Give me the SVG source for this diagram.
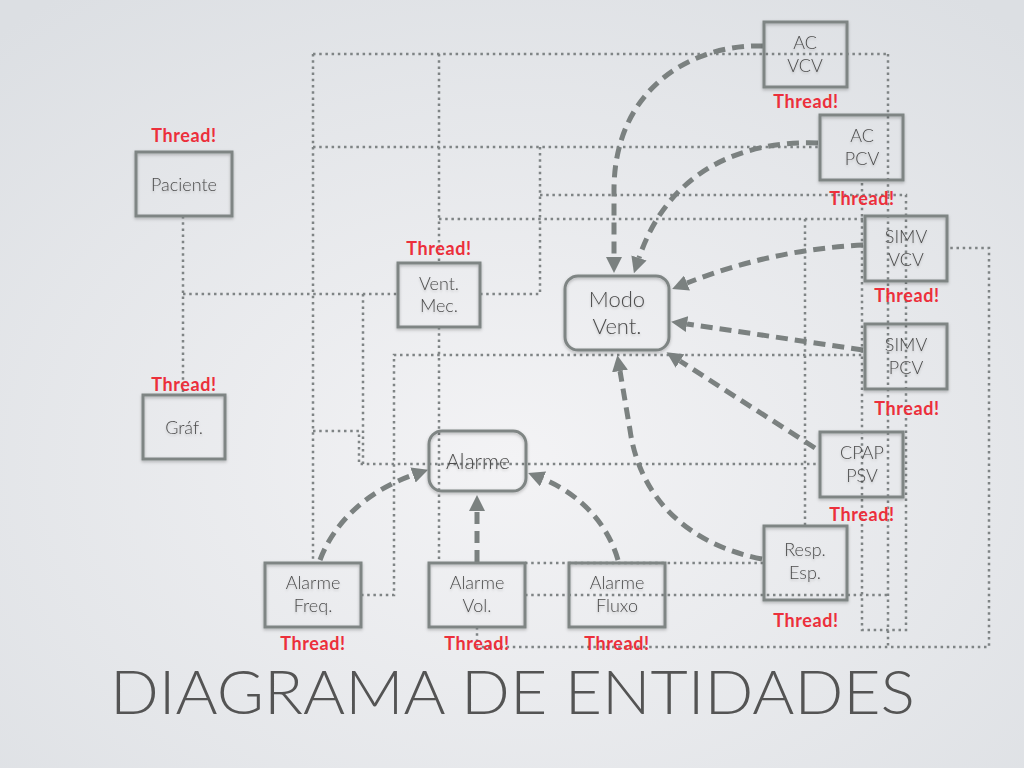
<svg xmlns="http://www.w3.org/2000/svg" width="1024" height="768" viewBox="0 0 1024 768">
<defs>
<radialGradient id="bg" cx="0.5" cy="0.6" r="0.75">
<stop offset="0" stop-color="#f3f3f5"/>
<stop offset="1" stop-color="#dcdfe3"/>
</radialGradient>
<filter id="sh" x="-10%" y="-10%" width="120%" height="130%">
<feDropShadow dx="0" dy="1.5" stdDeviation="1.5" flood-color="#000" flood-opacity="0.25"/>
</filter>
<filter id="tsh" x="-10%" y="-10%" width="120%" height="140%">
<feDropShadow dx="0" dy="1.5" stdDeviation="1" flood-color="#000" flood-opacity="0.18"/>
</filter>
<marker id="ah" viewBox="0 0 10 10" refX="0" refY="5" markerWidth="16" markerHeight="16" markerUnits="userSpaceOnUse" orient="auto">
<path d="M0,0 L10,5 L0,10 z" fill="#7b8180"/>
</marker>
<style>
.box{fill:none;stroke:#7f8584;stroke-width:3;filter:url(#sh)}
.lbl{font-family:Lato,"Open Sans","DejaVu Sans",sans-serif;font-weight:300;font-size:18px;fill:#4d4d4d;text-anchor:middle;filter:url(#tsh)}
.big{font-size:22px}
.thr{font-family:Lato,"Open Sans","DejaVu Sans",sans-serif;font-weight:700;font-size:18px;letter-spacing:0.6px;fill:#ec2f3b;text-anchor:middle}
.dot{fill:none;stroke:#7f8485;stroke-width:2.5;stroke-dasharray:2.5 3.7}
.dash{fill:none;stroke:#7b8180;stroke-width:5;stroke-dasharray:12 7;marker-end:url(#ah)}
.title{font-family:Lato,"Open Sans","DejaVu Sans",sans-serif;font-weight:300;font-size:62px;fill:#545454}
</style>
</defs>
<rect width="1024" height="768" fill="url(#bg)"/>

<g id="connectors">
<path class="dot" d="M313,54 H888"/>
<path class="dot" d="M313,54 V563"/>
<path class="dot" d="M439,54 V263"/>
<path class="dot" d="M439,327 V563"/>
<path class="dot" d="M313,147 H820"/>
<path class="dot" d="M480,294 H540 V147"/>
<path class="dot" d="M540,195 H906 V630 H862 V180"/>
<path class="dot" d="M439,219 H865"/>
<path class="dot" d="M805,219 V526"/>
<path class="dot" d="M888,54 V647"/>
<path class="dot" d="M477,627 V647 H989 V248 H947"/>
<path class="dot" d="M183,216 V395"/>
<path class="dot" d="M183,294 H398"/>
<path class="dot" d="M363,294 V464"/>
<path class="dot" d="M313,431 H359 V464 H820"/>
<path class="dot" d="M361,595 H394 V355 H865"/>
<path class="dot" d="M525,595 H888"/>
<path class="dot" d="M525,563 H764"/>

<path class="dash" d="M763,46 C690,44 614,90 614,190 L614,257"/>
<path class="dash" d="M818,143 C730,140 665,180 639,258"/>
<path class="dash" d="M863,245 C800,248 740,262 687,283"/>
<path class="dash" d="M863,350 L687,324"/>
<path class="dash" d="M815,448 L680,361"/>
<path class="dash" d="M762,559 C690,545 640,500 630,430 L620,371"/>
<path class="dash" d="M320,560 C335,520 370,490 413,475"/>
<path class="dash" d="M477,562 V511"/>
<path class="dash" d="M618,560 C605,515 570,490 543,479"/>
</g>

<g id="paciente">
<rect class="box" x="136" y="152" width="96" height="64"/>
<text class="lbl" x="184" y="191">Paciente</text>
<text class="thr" x="184" y="142">Thread!</text>
</g>
<g id="graf">
<rect class="box" x="143" y="395" width="82" height="64"/>
<text class="lbl" x="184" y="434">Gráf.</text>
<text class="thr" x="184" y="391">Thread!</text>
</g>
<g id="vent-mec">
<rect class="box" x="398" y="263" width="82" height="64"/>
<text class="lbl" x="439" y="290">Vent.</text>
<text class="lbl" x="439" y="312">Mec.</text>
<text class="thr" x="439" y="255">Thread!</text>
</g>
<g id="modo-vent">
<rect class="box" x="565" y="276" width="104" height="74" rx="13"/>
<text class="lbl big" x="617" y="307">Modo</text>
<text class="lbl big" x="617" y="334">Vent.</text>
</g>
<g id="alarme">
<rect class="box" x="429" y="431" width="97" height="60" rx="13"/>
<text class="lbl" x="478" y="469" style="font-size:21px">Alarme</text>
</g>
<g id="ac-vcv">
<rect class="box" x="764" y="22" width="83" height="65"/>
<text class="lbl" x="805" y="49">AC</text>
<text class="lbl" x="805" y="72">VCV</text>
<text class="thr" x="806" y="108">Thread!</text>
</g>
<g id="ac-pcv">
<rect class="box" x="820" y="115" width="83" height="65"/>
<text class="lbl" x="862" y="142">AC</text>
<text class="lbl" x="862" y="165">PCV</text>
<text class="thr" x="862" y="205">Thread!</text>
</g>
<g id="simv-vcv">
<rect class="box" x="865" y="216" width="82" height="65"/>
<text class="lbl" x="906" y="243">SIMV</text>
<text class="lbl" x="906" y="266">VCV</text>
<text class="thr" x="907" y="302">Thread!</text>
</g>
<g id="simv-pcv">
<rect class="box" x="865" y="324" width="82" height="65"/>
<text class="lbl" x="906" y="351">SIMV</text>
<text class="lbl" x="906" y="374">PCV</text>
<text class="thr" x="907" y="415">Thread!</text>
</g>
<g id="cpap-psv">
<rect class="box" x="820" y="432" width="83" height="65"/>
<text class="lbl" x="862" y="459">CPAP</text>
<text class="lbl" x="862" y="482">PSV</text>
<text class="thr" x="862" y="521">Thread!</text>
</g>
<g id="resp-esp">
<rect class="box" x="764" y="526" width="83" height="74"/>
<text class="lbl" x="805" y="556">Resp.</text>
<text class="lbl" x="805" y="579">Esp.</text>
<text class="thr" x="806" y="627">Thread!</text>
</g>
<g id="alarme-freq">
<rect class="box" x="265" y="563" width="96" height="64"/>
<text class="lbl" x="313" y="589">Alarme</text>
<text class="lbl" x="313" y="612">Freq.</text>
<text class="thr" x="313" y="650">Thread!</text>
</g>
<g id="alarme-vol">
<rect class="box" x="429" y="563" width="96" height="64"/>
<text class="lbl" x="477" y="589">Alarme</text>
<text class="lbl" x="477" y="612">Vol.</text>
<text class="thr" x="477" y="650">Thread!</text>
</g>
<g id="alarme-fluxo">
<rect class="box" x="569" y="563" width="96" height="64"/>
<text class="lbl" x="617" y="589">Alarme</text>
<text class="lbl" x="617" y="612">Fluxo</text>
<text class="thr" x="617" y="650">Thread!</text>
</g>

<text class="title" x="110" y="714" textLength="805" lengthAdjust="spacingAndGlyphs">DIAGRAMA DE ENTIDADES</text>
</svg>
